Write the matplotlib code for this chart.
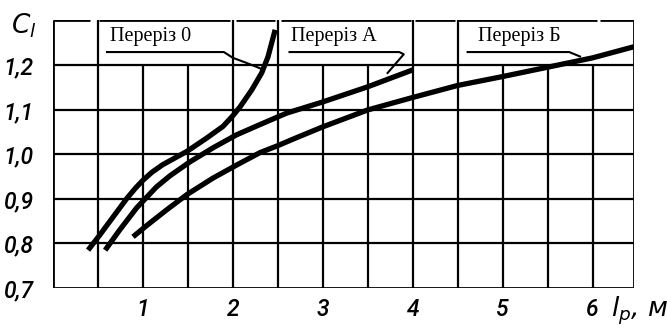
import numpy as np
import matplotlib
matplotlib.use('Agg')
from matplotlib import pyplot as plt

# read-off points of the three curves, C_l vs l_p
x0 = [0.39, 0.52, 0.67, 0.82, 0.92, 1.0, 1.1, 1.22, 1.49, 1.71, 1.89, 2.0, 2.08, 2.21, 2.32, 2.39, 2.44, 2.47]
c0 = [0.785, 0.819, 0.86, 0.901, 0.925, 0.942, 0.960, 0.977, 1.007, 1.037, 1.063, 1.087, 1.107, 1.145, 1.183, 1.219, 1.257, 1.28]

xA = [0.58, 0.74, 0.93, 1.15, 1.3, 1.52, 1.78, 2.04, 2.3, 2.6, 3.0, 3.5, 4.0]
cA = [0.785, 0.83, 0.88, 0.927, 0.952, 0.983, 1.015, 1.044, 1.067, 1.093, 1.118, 1.152, 1.19]

xB = [0.89, 1.04, 1.26, 1.49, 1.78, 2.04, 2.3, 2.49, 2.7, 3.0, 3.5, 4.0, 4.5, 5.0, 5.5, 6.0, 6.46]
cB = [0.815, 0.84, 0.875, 0.91, 0.947, 0.976, 1.004, 1.019, 1.037, 1.062, 1.1, 1.128, 1.155, 1.175, 1.196, 1.217, 1.242]

names = ['Переріз 0', 'Переріз А', 'Переріз Б']
xticks = [1, 2, 3, 4, 5, 6]
yticks = [0.7, 0.8, 0.9, 1.0, 1.1, 1.2]
ytlabels = ['0,7', '0,8', '0,9', '1,0', '1,1', '1,2']

xmax, ymax = 6.46, 1.302
lw_grid = 1.6

fig = plt.figure(figsize=(6.67, 3.29), dpi=100)
ax = fig.add_axes([53/667, 41/329, 581/667, 268/329])
ax.set_xlim(0, xmax)
ax.set_ylim(0.7, ymax)
for s in ax.spines.values():
	s.set_visible(False)
ax.tick_params(length=0)

# grid: full cells up to 1,2, label boxes in the top row
gx = np.arange(0.5, 6.01, 0.5)
ax.vlines(gx, 0.7, 1.2, color='k', lw=lw_grid)
ax.vlines([0.5, 2.0, 2.5, 4.0, 4.5], 1.2, ymax, color='k', lw=lw_grid)
ax.hlines([0.8, 0.9, 1.0, 1.1, 1.2], 0, xmax, color='k', lw=lw_grid)
# frame
ax.hlines(0.7, 0, xmax, color='k', lw=2.0)
ax.vlines([0, xmax], 0.7, ymax, color='k', lw=2.0)
top_segs = [(0, 0.41), (0.51, 1.97), (2.03, 2.47), (2.53, 3.98), (4.02, 4.47), (4.5, 6.05), (6.08, xmax)]
for a, b in top_segs:
	ax.plot([a, b], [ymax, ymax], color='k', lw=2.0, solid_capstyle='butt')

for xs, cs in [(x0, c0), (xA, cA), (xB, cB)]:
	ax.plot(xs, cs, color='k', lw=3.8, solid_capstyle='butt', solid_joinstyle='round')

# captions with leader lines
tfont = dict(family='Liberation Serif', fontsize=14.5, va='center', ha='left')
ax.text(0.63, 1.264, names[0], **tfont)
ax.text(2.65, 1.264, names[1], **tfont)
ax.text(4.72, 1.264, names[2], **tfont)
ax.plot([0.6, 1.9, 2.0, 2.16, 2.32], [1.23, 1.23, 1.217, 1.205, 1.192], color='k', lw=1.5)
ax.plot([2.63, 3.85, 3.9, 3.72], [1.23, 1.23, 1.225, 1.183], color='k', lw=1.5)
ax.plot([4.61, 5.74, 5.86], [1.23, 1.23, 1.22], color='k', lw=1.5)

tick_font = dict(family='Roboto', style='italic', weight='medium', fontsize=16.5)
ax.set_xticks(xticks)
ax.set_xticklabels([str(v) for v in xticks], **tick_font)
ax.set_yticks(yticks)
ax.set_yticklabels(ytlabels, **tick_font)
ax.tick_params(axis='x', pad=7)
ax.tick_params(axis='y', pad=14)

fig.text(11/667, 1 - 26/329, r'$C_l$', fontsize=19, va='center', ha='left')
fig.text(611/667, 1 - 311/329, r'$l_p$, м', fontsize=19, style='italic', va='center', ha='left')

fig.savefig('out.png', dpi=100)
